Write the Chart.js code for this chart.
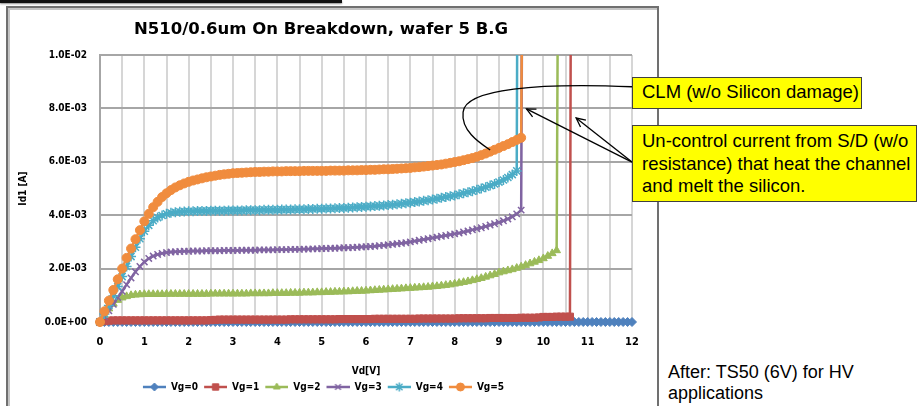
<!DOCTYPE html>
<html>
<head>
<meta charset="utf-8">
<title>N510/0.6um On Breakdown</title>
<script src="https://cdn.jsdelivr.net/npm/chart.js@4.4.1/dist/chart.umd.min.js"></script>
<style>
  html, body { margin: 0; padding: 0; background: #fff; }
  body { width: 920px; height: 406px; overflow: hidden; position: relative;
         font-family: "Liberation Sans", Arial, sans-serif; }
  #topbar { position: absolute; left: 0; top: 0; width: 342px; height: 3px; background: #111;
            box-shadow: 0 1px 2px rgba(0,0,0,0.45); }
  #frame { position: absolute; left: 6px; top: 6px; width: 653px; height: 420px; box-sizing: border-box;
           border: 2px solid #707070; box-shadow: inset 2px 2px 0 #c4c4c4; }
  #wrap { position: absolute; left: 10px; top: 10px; width: 645px; height: 396px; }
  .note { position: absolute; background: #ffff00; border: 1.5px solid #404040; box-sizing: border-box;
          color: #000; font-size: 18.5px; line-height: 22.5px; padding-left: 9px; white-space: nowrap; }
  #clm { left: 632px; top: 77px; width: 230px; height: 32px; padding-top: 3px; }
  #unc { left: 632px; top: 125px; width: 285px; height: 77px; padding-top: 4px; }
  #after { position: absolute; left: 668px; top: 362px; font-size: 18px; line-height: 21px; color: #000; }
</style>
</head>
<body>
<div id="topbar"></div>
<div id="frame"></div>
<div id="wrap"><canvas id="chart" width="645" height="396"></canvas></div>
<div class="note" id="clm">CLM (w/o Silicon damage)</div>
<div class="note" id="unc">Un-control current from S/D (w/o<br>resistance) that heat the channel<br>and melt the silicon.</div>
<div id="after">After: TS50 (6V) for HV<br>applications</div>

<script>
// Drain voltage sweep, V
const vd = [
  0.0, 0.1, 0.2, 0.3, 0.4, 0.5, 0.6, 0.7, 0.8, 0.9,
  1.0, 1.1, 1.2, 1.3, 1.4, 1.5, 1.6, 1.7, 1.8, 1.9,
  2.0, 2.1, 2.2, 2.3, 2.4, 2.5, 2.6, 2.7, 2.8, 2.9,
  3.0, 3.1, 3.2, 3.3, 3.4, 3.5, 3.6, 3.7, 3.8, 3.9,
  4.0, 4.1, 4.2, 4.3, 4.4, 4.5, 4.6, 4.7, 4.8, 4.9,
  5.0, 5.1, 5.2, 5.3, 5.4, 5.5, 5.6, 5.7, 5.8, 5.9,
  6.0, 6.1, 6.2, 6.3, 6.4, 6.5, 6.6, 6.7, 6.8, 6.9,
  7.0, 7.1, 7.2, 7.3, 7.4, 7.5, 7.6, 7.7, 7.8, 7.9,
  8.0, 8.1, 8.2, 8.3, 8.4, 8.5, 8.6, 8.7, 8.8, 8.9,
  9.0, 9.1, 9.2, 9.3, 9.4, 9.5, 9.6, 9.7, 9.8, 9.9,
  10.0, 10.1, 10.2, 10.3, 10.4, 10.5, 10.6, 10.7, 10.8, 10.9,
  11.0, 11.1, 11.2, 11.3, 11.4, 11.5, 11.6, 11.7, 11.8, 11.9,
  12.0
];

// Drain current per gate bias, mA (null = no reading at that Vd)
const idVg0 = [
  0, 0, 0, 0, 0, 0, 0, 0, 0, 0,
  0, 0, 0, 0, 0, 0, 0, 0, 0, 0,
  0, 0, 0, 0, 0, 0, 0, 0, 0, 0,
  0, 0, 0, 0, 0, 0, 0, 0, 0, 0,
  0, 0, 0, 0, 0, 0, 0, 0, 0, 0,
  0, 0, 0, 0, 0, 0, 0, 0, 0, 0,
  0, 0, 0, 0, 0, 0, 0, 0, 0, 0,
  0, 0, 0, 0, 0, 0, 0, 0, 0, 0,
  0, 0, 0, 0, 0, 0, 0, 0, 0, 0,
  0, 0, 0, 0, 0, 0, 0, 0, 0, 0,
  0, 0, 0, 0, 0, 0, 0, 0, 0, 0,
  0, 0, 0, 0, 0, 0, 0, 0, 0, 0,
  0
];
const idVg1 = [
  0, 0.03, 0.05, 0.06, 0.06, 0.06, 0.06, 0.06, 0.06, 0.06,
  0.06, 0.06, 0.06, 0.06, 0.06, 0.06, 0.06, 0.06, 0.06, 0.06,
  0.06, 0.06, 0.06, 0.06, 0.06, 0.07, 0.08, 0.09, 0.09, 0.09,
  0.09, 0.09, 0.09, 0.09, 0.09, 0.09, 0.09, 0.09, 0.09, 0.09,
  0.09, 0.09, 0.09, 0.10, 0.10, 0.10, 0.10, 0.10, 0.10, 0.10,
  0.10, 0.10, 0.10, 0.10, 0.11, 0.11, 0.11, 0.11, 0.11, 0.11,
  0.11, 0.11, 0.12, 0.12, 0.12, 0.12, 0.12, 0.12, 0.12, 0.12,
  0.12, 0.12, 0.13, 0.13, 0.13, 0.13, 0.13, 0.13, 0.13, 0.13,
  0.13, 0.14, 0.14, 0.14, 0.14, 0.14, 0.14, 0.14, 0.15, 0.15,
  0.15, 0.15, 0.15, 0.15, 0.15, 0.16, 0.16, 0.16, 0.16, 0.17,
  0.19, 0.19, 0.19, 0.20, 0.20, 0.20, 0.20, null, null, null,
  null, null, null, null, null, null, null, null, null, null,
  null
];
const idVg2 = [
  0, 0.25, 0.50, 0.68, 0.82, 0.91, 0.96, 1.00, 1.02, 1.03,
  1.04, 1.04, 1.04, 1.04, 1.04, 1.05, 1.05, 1.05, 1.05, 1.05,
  1.05, 1.05, 1.05, 1.05, 1.05, 1.06, 1.06, 1.06, 1.06, 1.06,
  1.06, 1.06, 1.06, 1.06, 1.07, 1.07, 1.07, 1.07, 1.07, 1.08,
  1.08, 1.08, 1.08, 1.09, 1.09, 1.09, 1.10, 1.10, 1.10, 1.11,
  1.11, 1.12, 1.12, 1.13, 1.13, 1.14, 1.14, 1.15, 1.16, 1.16,
  1.17, 1.18, 1.19, 1.20, 1.21, 1.22, 1.23, 1.24, 1.25, 1.26,
  1.27, 1.28, 1.29, 1.30, 1.31, 1.33, 1.34, 1.36, 1.38, 1.40,
  1.43, 1.46, 1.49, 1.52, 1.56, 1.60, 1.64, 1.69, 1.74, 1.79,
  1.85, 1.89, 1.93, 1.97, 2.02, 2.07, 2.13, 2.19, 2.25, 2.31,
  2.38, 2.47, 2.57, 2.68, null, null, null, null, null, null,
  null, null, null, null, null, null, null, null, null, null,
  null
];
const idVg3 = [
  0, 0.20, 0.42, 0.66, 0.92, 1.15, 1.40, 1.65, 1.88, 2.08,
  2.25, 2.38, 2.47, 2.53, 2.57, 2.60, 2.62, 2.63, 2.64, 2.65,
  2.65, 2.66, 2.66, 2.66, 2.67, 2.67, 2.67, 2.67, 2.68, 2.68,
  2.68, 2.68, 2.69, 2.69, 2.69, 2.69, 2.70, 2.70, 2.70, 2.70,
  2.71, 2.71, 2.71, 2.72, 2.72, 2.72, 2.73, 2.73, 2.74, 2.74,
  2.75, 2.75, 2.76, 2.76, 2.77, 2.78, 2.78, 2.79, 2.80, 2.81,
  2.82, 2.83, 2.84, 2.86, 2.87, 2.89, 2.91, 2.93, 2.95, 2.97,
  3.00, 3.03, 3.06, 3.09, 3.12, 3.15, 3.18, 3.21, 3.24, 3.27,
  3.30, 3.33, 3.37, 3.41, 3.45, 3.49, 3.53, 3.58, 3.63, 3.68,
  3.73, 3.79, 3.86, 3.94, 4.05, 4.19, null, null, null, null,
  null, null, null, null, null, null, null, null, null, null,
  null, null, null, null, null, null, null, null, null, null,
  null
];
const idVg4 = [
  0, 0.30, 0.62, 0.97, 1.33, 1.70, 2.08, 2.45, 2.80, 3.12,
  3.40, 3.62, 3.79, 3.91, 3.99, 4.05, 4.09, 4.11, 4.13, 4.14,
  4.15, 4.15, 4.16, 4.16, 4.16, 4.17, 4.17, 4.17, 4.17, 4.18,
  4.18, 4.18, 4.18, 4.19, 4.19, 4.19, 4.19, 4.20, 4.20, 4.20,
  4.20, 4.21, 4.21, 4.21, 4.22, 4.22, 4.22, 4.23, 4.23, 4.24,
  4.24, 4.25, 4.25, 4.26, 4.27, 4.27, 4.28, 4.29, 4.30, 4.31,
  4.32, 4.33, 4.34, 4.35, 4.36, 4.38, 4.39, 4.41, 4.43, 4.45,
  4.47, 4.49, 4.51, 4.54, 4.56, 4.59, 4.62, 4.65, 4.68, 4.71,
  4.74, 4.78, 4.82, 4.86, 4.90, 4.95, 5.00, 5.05, 5.11, 5.17,
  5.24, 5.32, 5.41, 5.52, 5.66, null, null, null, null, null,
  null, null, null, null, null, null, null, null, null, null,
  null, null, null, null, null, null, null, null, null, null,
  null
];
const idVg5 = [
  0, 0.40, 0.80, 1.20, 1.60, 2.00, 2.40, 2.75, 3.10, 3.44,
  3.77, 4.05, 4.30, 4.50, 4.68, 4.82, 4.94, 5.04, 5.12, 5.19,
  5.25, 5.30, 5.34, 5.38, 5.42, 5.45, 5.48, 5.51, 5.53, 5.55,
  5.57, 5.58, 5.59, 5.60, 5.61, 5.62, 5.62, 5.63, 5.63, 5.64,
  5.64, 5.64, 5.65, 5.65, 5.65, 5.65, 5.66, 5.66, 5.66, 5.66,
  5.66, 5.66, 5.67, 5.67, 5.67, 5.67, 5.68, 5.68, 5.68, 5.69,
  5.69, 5.70, 5.70, 5.71, 5.72, 5.72, 5.73, 5.74, 5.75, 5.76,
  5.77, 5.79, 5.80, 5.82, 5.84, 5.86, 5.88, 5.90, 5.93, 5.96,
  5.99, 6.02, 6.06, 6.10, 6.14, 6.19, 6.25, 6.31, 6.38, 6.45,
  6.52, 6.59, 6.66, 6.74, 6.82, 6.90, null, null, null, null,
  null, null, null, null, null, null, null, null, null, null,
  null, null, null, null, null, null, null, null, null, null,
  null
];

// Breakdown: current runs away (off scale) at this Vd
const breakdownVd = [null, 10.65, 10.38, 9.57, 9.45, 9.6];
const breakdownId = [null, 30, 30, 30, 30, 30];

const seriesNames = ['Vg=0', 'Vg=1', 'Vg=2', 'Vg=3', 'Vg=4', 'Vg=5'];
const seriesValues = [idVg0, idVg1, idVg2, idVg3, idVg4, idVg5];

const yTicks = [0, 2, 4, 6, 8, 10];   // mA, labelled in A
const xTickLabels = ['0','1','2','3','4','5','6','7','8','9','10','11','12'];

const colors = ['#4F81BD', '#C0504D', '#9BBB59', '#8064A2', '#4BACC6', '#F08C3E'];
const markers = [
  { style: 'rectRot',  r: 4.5, bw: 1 },
  { style: 'rect',     r: 5,   bw: 1 },
  { style: 'triangle', r: 4.5, bw: 1 },
  { style: 'crossRot', r: 4.5, bw: 1.5 },
  { style: 'star',     r: 5,   bw: 1.5 },
  { style: 'circle',   r: 4.5, bw: 1 }
];

const FONT = "'DejaVu Sans Condensed', 'DejaVu Sans', sans-serif";
const TITLE_FONT = "'DejaVu Sans', sans-serif";

function curvePoints(values, bdX, bdY) {
  const pts = [];
  values.forEach((v, i) => { if (v !== null) pts.push({ x: vd[i], y: v }); });
  if (bdX !== null) pts.push({ x: bdX, y: bdY });
  return pts;
}

function sciLabel(mA) {
  const a = mA / 1000;
  if (a === 0) return '0.0E+00';
  const [m, e] = a.toExponential(1).split('e');
  const n = parseInt(e, 10);
  return m + 'E' + (n < 0 ? '-' : '+') + String(Math.abs(n)).padStart(2, '0');
}

// Legend swatches: short line with the series marker on it
const legendIcons = colors.map((c, i) => {
  const cv = document.createElement('canvas');
  cv.width = 28; cv.height = 12;
  const g = cv.getContext('2d');
  g.strokeStyle = c; g.fillStyle = c; g.lineWidth = 2.5;
  g.beginPath(); g.moveTo(5, 6); g.lineTo(28, 6); g.stroke();
  g.lineWidth = markers[i].bw;
  Chart.helpers.drawPoint(g, { pointStyle: markers[i].style, radius: markers[i].r - 0.5, rotation: 0, borderWidth: markers[i].bw }, 16.5, 6);
  return cv;
});

const datasets = seriesValues.map((vals, i) => ({
  label: seriesNames[i],
  data: curvePoints(vals, breakdownVd[i], breakdownId[i]),
  showLine: true,
  borderColor: colors[i],
  backgroundColor: colors[i],
  borderWidth: 2.5,
  pointStyle: markers[i].style,
  pointRadius: markers[i].r,
  pointBorderWidth: markers[i].bw,
  pointHoverRadius: markers[i].r,
  tension: 0,
  order: seriesValues.length - i,
  clip: { left: 10, right: 10, top: 0, bottom: 10 }
}));

// Callout leaders, in axis units (Vd, mA)
const clmLeader = [[12.0, 8.81], [9.93, 8.95], [8.23, 8.76], [8.19, 7.86], [8.14, 7.19], [8.53, 6.74], [8.80, 6.44]];
const meltArrows = { from: [12.0, 5.99], tips: [[9.62, 7.98], [10.74, 7.64]] };

const calloutPlugin = {
  id: 'callouts',
  afterDraw(chart) {
    const { ctx, scales: { x, y } } = chart;
    const P = p => [x.getPixelForValue(p[0]), y.getPixelForValue(p[1])];
    ctx.save();
    ctx.strokeStyle = '#000';
    ctx.lineWidth = 1.3;
    const c = clmLeader.map(P);
    ctx.beginPath();
    ctx.moveTo(c[0][0], c[0][1]);
    ctx.bezierCurveTo(c[1][0], c[1][1], c[2][0], c[2][1], c[3][0], c[3][1]);
    ctx.bezierCurveTo(c[4][0], c[4][1], c[5][0], c[5][1], c[6][0], c[6][1]);
    ctx.stroke();
    const s = P(meltArrows.from);
    meltArrows.tips.forEach(t => {
      const e = P(t);
      ctx.beginPath(); ctx.moveTo(s[0], s[1]); ctx.lineTo(e[0], e[1]); ctx.stroke();
      const ang = Math.atan2(s[1] - e[1], s[0] - e[0]);
      const L = 10, spread = 0.45;
      ctx.beginPath();
      ctx.moveTo(e[0] + L * Math.cos(ang + spread), e[1] + L * Math.sin(ang + spread));
      ctx.lineTo(e[0], e[1]);
      ctx.lineTo(e[0] + L * Math.cos(ang - spread), e[1] + L * Math.sin(ang - spread));
      ctx.stroke();
    });
    ctx.restore();
  }
};

new Chart(document.getElementById('chart'), {
  type: 'scatter',
  data: { datasets },
  plugins: [calloutPlugin],
  options: {
    responsive: false,
    animation: false,
    devicePixelRatio: 1,
    layout: { padding: { left: 0, right: 23, top: 0, bottom: 4 } },
    plugins: {
      tooltip: { enabled: false },
      title: {
        display: true,
        text: 'N510/0.6um On Breakdown, wafer 5 B.G',
        color: '#000',
        font: { family: TITLE_FONT, size: 16.5, weight: 'bold' },
        padding: { top: 10, bottom: 15.2 }
      },
      legend: {
        position: 'bottom',
        labels: {
          color: '#000',
          font: { family: FONT, size: 10, weight: 'bold' },
          usePointStyle: true,
          pointStyleWidth: 28,
          padding: 1,
          sort: (a, b) => a.datasetIndex - b.datasetIndex,
          generateLabels(chart) {
            const items = Chart.defaults.plugins.legend.labels.generateLabels(chart);
            items.forEach(it => { it.pointStyle = legendIcons[it.datasetIndex]; });
            return items;
          }
        }
      }
    },
    scales: {
      x: {
        type: 'linear',
        min: 0, max: 12,
        afterFit: s => { s.height = 59; },
        ticks: {
          stepSize: 0.5,
          autoSkip: false,
          maxRotation: 0,
          padding: 14,
          color: '#000',
          font: { family: FONT, size: 11, weight: 'bold' },
          callback: v => Number.isInteger(v) ? xTickLabels[v] : ''
        },
        grid: { color: '#d6d6d6', lineWidth: 2, drawTicks: false },
        border: { color: '#a6a6a6', width: 2 },
        title: {
          display: true, text: 'Vd[V]', color: '#000',
          font: { family: FONT, size: 10, weight: 'bold' },
          padding: { top: 0, bottom: 4 }
        }
      },
      y: {
        type: 'linear',
        min: 0, max: 10,
        afterFit: s => { s.width = 90; },
        afterBuildTicks: s => { s.ticks = yTicks.map(v => ({ value: v })); },
        ticks: {
          padding: 13,
          color: '#000',
          font: { family: FONT, size: 10, weight: 'bold' },
          callback: v => sciLabel(v)
        },
        grid: { color: '#a6a6a6', lineWidth: 2, drawTicks: false },
        border: { color: '#a6a6a6', width: 2 },
        title: {
          display: true, text: 'Id1 [A]', color: '#000',
          font: { family: FONT, size: 10, weight: 'bold' },
          padding: { top: 7, bottom: 0 }
        }
      }
    }
  }
});
</script>
</body>
</html>
